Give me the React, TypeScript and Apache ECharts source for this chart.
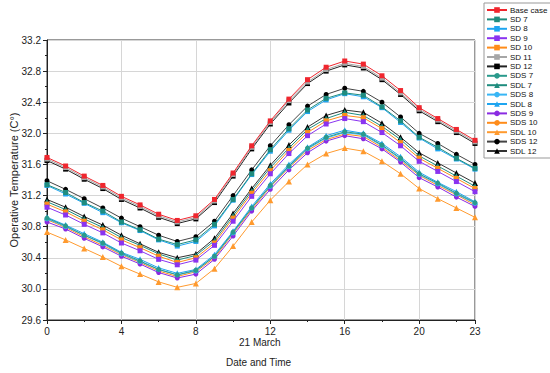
import React, { useEffect, useRef } from "react";
import * as echarts from "echarts";

const hours = [0,1,2,3,4,5,6,7,8,9,10,11,12,13,14,15,16,17,18,19,20,21,22,23];

const baseCase = [31.69,31.58,31.45,31.33,31.19,31.08,30.96,30.88,30.94,31.15,31.49,31.84,32.16,32.44,32.69,32.85,32.93,32.89,32.74,32.55,32.33,32.19,32.05,31.91];
const sd7 = [31.34,31.24,31.11,31.00,30.86,30.76,30.64,30.57,30.63,30.83,31.15,31.48,31.79,32.06,32.30,32.45,32.52,32.49,32.34,32.16,31.95,31.82,31.68,31.55];
const sd8 = [31.33,31.22,31.10,30.98,30.85,30.75,30.63,30.55,30.61,30.81,31.14,31.47,31.77,32.04,32.28,32.43,32.51,32.47,32.33,32.14,31.94,31.80,31.67,31.54];
const sd9 = [31.05,30.95,30.83,30.72,30.59,30.49,30.38,30.31,30.37,30.56,30.87,31.19,31.48,31.74,31.97,32.12,32.19,32.15,32.01,31.84,31.64,31.51,31.38,31.25];
const sd10 = [31.09,30.99,30.87,30.76,30.63,30.53,30.42,30.34,30.40,30.59,30.91,31.23,31.52,31.78,32.01,32.16,32.23,32.20,32.06,31.88,31.68,31.55,31.42,31.29];
const sd11 = [31.67,31.56,31.43,31.31,31.17,31.06,30.94,30.86,30.92,31.13,31.47,31.82,32.14,32.42,32.66,32.82,32.90,32.86,32.71,32.52,32.31,32.17,32.03,31.89];
const sd12 = [31.65,31.54,31.41,31.29,31.15,31.04,30.92,30.84,30.90,31.11,31.45,31.80,32.12,32.39,32.64,32.80,32.88,32.84,32.69,32.50,32.29,32.15,32.01,31.87];
const sds7 = [30.91,30.81,30.69,30.59,30.46,30.36,30.25,30.18,30.24,30.42,30.73,31.04,31.33,31.58,31.81,31.95,32.02,31.99,31.85,31.68,31.48,31.36,31.23,31.11];
const sdl7 = [31.12,31.02,30.90,30.79,30.66,30.56,30.45,30.37,30.43,30.62,30.94,31.26,31.56,31.81,32.05,32.19,32.27,32.23,32.09,31.92,31.71,31.58,31.45,31.32];
const sds8 = [30.90,30.80,30.69,30.58,30.45,30.35,30.25,30.18,30.23,30.42,30.72,31.04,31.32,31.57,31.80,31.94,32.01,31.98,31.84,31.67,31.47,31.35,31.22,31.10];
const sdl8 = [30.92,30.82,30.71,30.60,30.47,30.38,30.27,30.20,30.25,30.44,30.74,31.06,31.35,31.60,31.82,31.97,32.04,32.00,31.87,31.70,31.50,31.37,31.25,31.12];
const sds9 = [30.86,30.77,30.65,30.54,30.42,30.32,30.21,30.14,30.19,30.38,30.68,31.00,31.28,31.53,31.75,31.90,31.97,31.93,31.80,31.63,31.43,31.31,31.18,31.06];
const sds10 = [30.89,30.79,30.67,30.56,30.44,30.34,30.23,30.16,30.22,30.40,30.71,31.02,31.31,31.56,31.78,31.92,31.99,31.96,31.82,31.65,31.46,31.33,31.21,31.08];
const sdl10 = [30.73,30.63,30.52,30.41,30.29,30.19,30.09,30.02,30.07,30.26,30.55,30.86,31.14,31.38,31.60,31.74,31.81,31.77,31.64,31.48,31.29,31.16,31.04,30.92];
const sds12 = [31.39,31.28,31.16,31.04,30.91,30.80,30.69,30.61,30.67,30.87,31.20,31.53,31.84,32.11,32.35,32.50,32.58,32.54,32.40,32.21,32.00,31.87,31.73,31.60];
const sdl12 = [31.15,31.05,30.93,30.82,30.69,30.58,30.47,30.40,30.45,30.65,30.97,31.29,31.59,31.85,32.08,32.23,32.30,32.27,32.13,31.95,31.75,31.62,31.49,31.36];

const seriesNames = ["Base case","SD 7","SD 8","SD 9","SD 10","SD 11","SD 12","SDS 7","SDL 7","SDS 8","SDL 8","SDS 9","SDS 10","SDL 10","SDS 12","SDL 12"];
const seriesData = [baseCase, sd7, sd8, sd9, sd10, sd11, sd12, sds7, sdl7, sds8, sdl8, sds9, sds10, sdl10, sds12, sdl12];
const seriesSymbols = ["rect","rect","rect","rect","rect","rect","rect","circle","triangle","circle","triangle","circle","circle","triangle","circle","triangle"];
const lineColors = ["#f0262e","#1f8c7e","#1ea5f0","#8a33f0","#ff8c1a","#a6a6a6","#222222","#2a9a8c","#1f8c7e","#38b6f5","#1ea5f0","#8a2be2","#ff8c1a","#ff9a2e","#444444","#333333"];
const markerColors = ["#f0262e","#1f8c7e","#1ea5f0","#8a33f0","#ff8c1a","#a6a6a6","#000000","#2a9a8c","#1f8c7e","#38b6f5","#1ea5f0","#8a2be2","#ff8c1a","#ff9a2e","#000000","#000000"];

const FONT = "'Liberation Sans', Arial, sans-serif";

export default function App() {
  const ref = useRef<HTMLDivElement>(null);
  useEffect(() => {
    if (!ref.current) return;
    const chart = echarts.init(ref.current, undefined, { renderer: "svg" });
    const series = seriesNames.map((name, i) => ({
      name,
      type: "line",
      data: hours.map((h, j) => [h, seriesData[i][j]]),
      symbol: seriesSymbols[i],
      symbolSize: seriesSymbols[i] === "triangle" ? 6 : 5,
      showAllSymbol: true,
      lineStyle: { color: lineColors[i], width: 1 },
      itemStyle: { color: markerColors[i] },
      z: 2 + (15 - i) * 0.01,
    }));
    chart.setOption({
      animation: false,
      backgroundColor: "#ffffff",
      textStyle: { fontFamily: FONT },
      grid: {
        left: 47, right: 75, top: 40, bottom: 53,
        containLabel: false,
        outerBoundsMode: "none",
        show: true, borderColor: "#333", borderWidth: 1,
      },
      legend: {
        orient: "vertical",
        left: 484, top: 3,
        itemWidth: 20, itemHeight: 7, itemGap: 1.4,
        padding: [3, 4, 3, 2],
        borderColor: "#999", borderWidth: 1,
        textStyle: { fontSize: 8, color: "#111", fontFamily: FONT, padding: [0, 0, 0, -2] },
        data: seriesNames,
      },
      xAxis: {
        type: "value", min: 0, max: 23, interval: 4,
        axisLine: { lineStyle: { color: "#222" } },
        axisTick: { show: true, lineStyle: { color: "#222" }, length: 4 },
        minorTick: { show: true, splitNumber: 2, length: 2, lineStyle: { color: "#222" } },
        axisLabel: { fontSize: 10, color: "#222", fontFamily: FONT, margin: 6 },
        splitLine: { show: true, lineStyle: { color: "#d6d6d6", width: 1 } },
      },
      yAxis: {
        type: "value", min: 29.6, max: 33.2, interval: 0.4,
        name: "Operative Temperature (C°)",
        nameLocation: "middle", nameGap: 28,
        nameMoveOverlap: false,
        nameTextStyle: { fontSize: 11, color: "#222", fontFamily: FONT },
        axisLine: { show: true, lineStyle: { color: "#222" } },
        axisTick: { show: true, lineStyle: { color: "#222" }, length: 4 },
        minorTick: { show: true, splitNumber: 2, length: 2, lineStyle: { color: "#222" } },
        axisLabel: { fontSize: 10, color: "#222", fontFamily: FONT, formatter: (v: number) => v.toFixed(1), margin: 6 },
        splitLine: { show: true, lineStyle: { color: "#d6d6d6", width: 1 } },
      },
      graphic: [
        { type: "text", left: 261 - 22, top: 337, style: { text: "21 March", fontSize: 10, fill: "#222", fontFamily: FONT } },
        { type: "text", left: 261 - 35, top: 357, style: { text: "Date and Time", fontSize: 10, fill: "#222", fontFamily: FONT } },
      ],
      series,
    });
    return () => chart.dispose();
  }, []);
  return <div ref={ref} style={{ width: 550, height: 373, position: "absolute", left: 0, top: 0 }} />;
}
